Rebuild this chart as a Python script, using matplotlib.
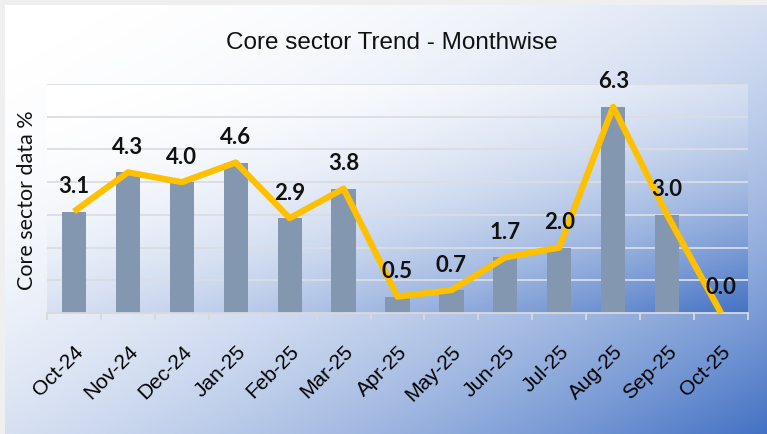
import numpy as np
import matplotlib
matplotlib.use('Agg')
import matplotlib.pyplot as plt
from matplotlib.colors import LinearSegmentedColormap

# chart data
months = ['Oct-24', 'Nov-24', 'Dec-24', 'Jan-25', 'Feb-25', 'Mar-25', 'Apr-25',
          'May-25', 'Jun-25', 'Jul-25', 'Aug-25', 'Sep-25', 'Oct-25']
growth = [3.1, 4.3, 4.0, 4.6, 2.9, 3.8, 0.5, 0.7, 1.7, 2.0, 6.3, 3.0, 0.0]

W, H = 767, 434
fig = plt.figure(figsize=(W / 100, H / 100), dpi=100)
fig.patch.set_facecolor('#efefef')

blue_map = LinearSegmentedColormap.from_list('wb', ['#ffffff', '#4472c4'])


def gradient(nx, ny):
    u = np.linspace(0, 1, nx)[None, :]
    v = np.linspace(0, 1, ny)[:, None]   # 0 at top
    t = (u + v) / 2
    return t ** 2.2


# outer chart background (diagonal gradient)
bg = fig.add_axes([5 / W, 0, 1 - 5 / W, 1 - 5 / H])
bg.imshow(gradient(300, 200), cmap=blue_map, vmin=0, vmax=1,
          aspect='auto', extent=[0, 1, 1, 0], interpolation='bilinear')
bg.set_axis_off()

# plot area
ax = fig.add_axes([47 / W, 1 - 313 / H, (748 - 47) / W, (313 - 84) / H])
ax.patch.set_alpha(0)
x = np.arange(len(months))
ax.set_xlim(-0.5, len(months) - 0.5)
ax.set_ylim(0, 7)
ax.imshow(gradient(300, 200), cmap=blue_map, vmin=0, vmax=1,
          aspect='auto', extent=[-0.5, len(months) - 0.5, 0, 7],
          interpolation='bilinear', zorder=0)

for gy in range(1, 8):
    ax.axhline(gy, color='#dadde3', lw=1.3, zorder=1)

ax.bar(x, growth, width=0.45, color='#8497b0', zorder=2)
ax.plot(x, growth, color='#ffc000', lw=4.5, solid_joinstyle='round',
        solid_capstyle='butt', zorder=3, clip_on=False)

for xi, val in zip(x, growth):
    ax.annotate(f'{val:.1f}', (xi, val), xytext=(0, 18), textcoords='offset points',
                ha='center', va='center', fontsize=16, fontweight='bold',
                family='Lato', color='#111111', zorder=4, annotation_clip=False)

for side in ['top', 'left', 'right']:
    ax.spines[side].set_visible(False)
ax.spines['bottom'].set_color('#d9d9d9')
ax.spines['bottom'].set_linewidth(1.3)
ax.set_yticks([])

ax.set_xticks(x)
ax.set_xticklabels(months, rotation=45, ha='right', rotation_mode='anchor',
                   fontsize=15, family='Liberation Sans')
ax.tick_params(axis='x', which='major', length=0, pad=21)
ax.set_xticks(np.arange(-0.5, len(months)), minor=True)
ax.tick_params(axis='x', which='minor', length=5, width=1.3, color='#d9d9d9',
               direction='out')

fig.text(392 / W, 1 - 43 / H, 'Core sector Trend - Monthwise', ha='center',
         va='center', fontsize=17.5, family='Liberation Sans', color='#111111')
fig.text(27 / W, 1 - 200 / H, 'Core sector data %', rotation=90, ha='center',
         va='center', fontsize=15.5, family='Lato', color='#111111')

fig.savefig('out.png', dpi=100, facecolor=fig.get_facecolor())
